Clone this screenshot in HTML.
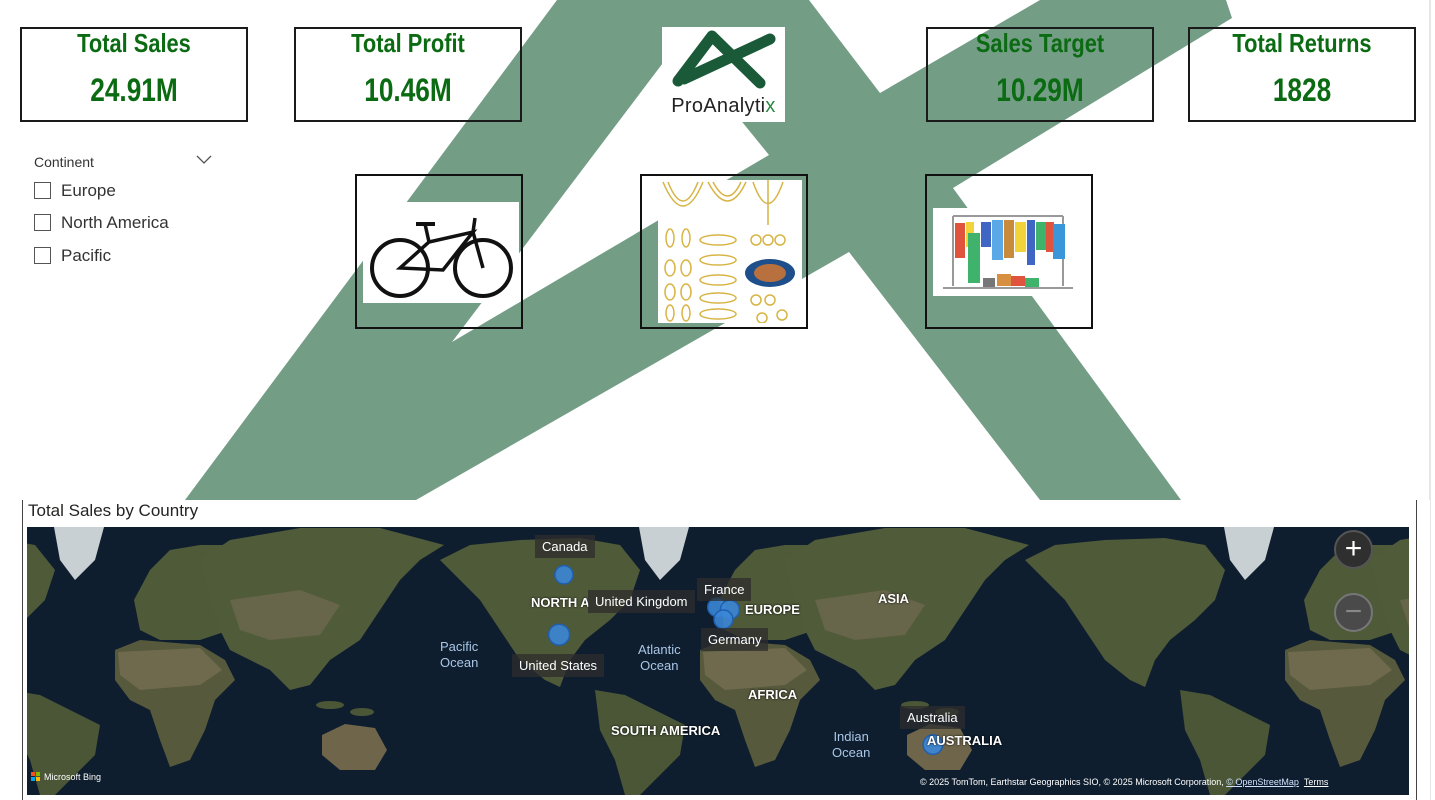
<!DOCTYPE html>
<html><head><meta charset="utf-8">
<style>
*{box-sizing:border-box;margin:0;padding:0}
body{width:1435px;height:800px;background:#fff;position:relative;overflow:hidden;font-family:"Liberation Sans",sans-serif}
.abs{position:absolute}
.kpi{position:absolute;top:27px;width:228px;height:95px;border:2px solid #1a1a1a;text-align:center;color:#0b6b12;font-weight:bold}
.kpi .t{position:absolute;left:0;right:0;top:0;font-size:26px;line-height:28px;transform:scaleX(0.84)}
.kpi .v{position:absolute;left:0;right:0;top:44px;font-size:32px;line-height:34px;transform:scaleX(0.82)}
.pbox{position:absolute;top:174px;width:168px;height:155px;border:2px solid #111}
.cb{position:absolute;left:34px;width:17px;height:17px;border:1px solid #555;background:#fff}
.cl{position:absolute;left:61px;font-size:17px;color:#333}
.tip{position:absolute;background:rgba(45,45,45,0.75);color:#fff;font-size:13px;line-height:23px;padding:0 7px;white-space:nowrap}
.cont{position:absolute;color:#fff;font-weight:bold;font-size:13px;white-space:nowrap;text-shadow:0 0 2px #000}
.ocean{position:absolute;color:#a9c6e6;font-size:13px;line-height:16px;text-align:center}
</style></head><body>

<svg class="abs" style="left:0;top:0" width="1435" height="500">
<polygon points="557,0 809,0 880,93 1040,0 1226,0 1232,18 953,188 1181,500 185,500" fill="#749d86"/>
<polygon points="678,43 452,342 769,155" fill="#fff"/>
<polygon points="849,252 416,500 1040,500" fill="#fff"/>
</svg>
<div class="abs" style="left:1429px;top:0;width:2px;height:800px;background:#e6e6e6"></div>

<div class="kpi" style="left:20px"><div class="t">Total Sales</div><div class="v">24.91M</div></div>
<div class="kpi" style="left:294px"><div class="t">Total Profit</div><div class="v">10.46M</div></div>
<div class="kpi" style="left:926px"><div class="t">Sales Target</div><div class="v">10.29M</div></div>
<div class="kpi" style="left:1188px"><div class="t">Total Returns</div><div class="v">1828</div></div>

<div class="abs" style="left:662px;top:27px;width:123px;height:95px;background:#fff">
<svg width="123" height="68" style="position:absolute;left:0;top:0">
<g stroke="#1a5a38" stroke-width="11" fill="none" stroke-linecap="round" stroke-linejoin="round">
<path d="M16,54 L50,9 L98,56"/>
<path d="M108,12 L22,52"/>
</g>
</svg>
<div style="position:absolute;left:0;right:0;top:68px;text-align:center;font-size:20px;color:#222;letter-spacing:0.3px">ProAnalyti<span style="color:#2a8a40">x</span></div>
</div>

<div class="abs" style="left:34px;top:154px;font-size:14px;color:#333">Continent</div>
<svg class="abs" style="left:196px;top:155px" width="16" height="10"><path d="M1,1 L8,8 L15,1" stroke="#555" fill="none" stroke-width="1.3"/></svg>
<div class="cb" style="top:182px"></div><div class="cl" style="top:181px">Europe</div>
<div class="cb" style="top:214px"></div><div class="cl" style="top:213px">North America</div>
<div class="cb" style="top:247px"></div><div class="cl" style="top:246px">Pacific</div>

<div class="pbox" style="left:355px">
<svg class="abs" style="left:6px;top:26px" width="156" height="101"><rect width="156" height="101" fill="#fff"/>
<g stroke="#111" fill="none"><circle cx="37" cy="66" r="28" stroke-width="4"/><circle cx="120" cy="66" r="28" stroke-width="4"/>
<path d="M37,66 L66,40 L110,30 L80,68 Z M110,30 L120,66 M66,40 L62,22 M110,30 L112,16" stroke-width="3.5"/>
<path d="M53,22 L72,22" stroke-width="4"/></g></svg>
</div>
<div class="pbox" style="left:640px">
<svg class="abs" style="left:16px;top:4px" width="144" height="143"><rect width="144" height="143" fill="#fff"/>
<g stroke="#d7b443" fill="none" stroke-width="1.5">
<path d="M5,2 Q25,50 45,2 M10,2 Q25,40 40,2 M50,2 Q70,40 88,2 M55,2 Q70,30 83,2 M95,2 Q110,45 125,2 M110,0 L110,45"/>
<ellipse cx="12" cy="58" rx="4" ry="9"/><ellipse cx="28" cy="58" rx="4" ry="9"/><ellipse cx="12" cy="88" rx="5" ry="8"/><ellipse cx="28" cy="88" rx="5" ry="8"/><ellipse cx="12" cy="112" rx="5" ry="8"/><ellipse cx="28" cy="112" rx="5" ry="8"/><ellipse cx="12" cy="133" rx="4" ry="8"/><ellipse cx="28" cy="133" rx="4" ry="8"/>
<ellipse cx="60" cy="60" rx="18" ry="5"/><ellipse cx="60" cy="80" rx="18" ry="5"/><ellipse cx="60" cy="100" rx="18" ry="5"/><ellipse cx="60" cy="118" rx="18" ry="5"/><ellipse cx="60" cy="134" rx="18" ry="5"/>
<circle cx="98" cy="60" r="5"/><circle cx="110" cy="60" r="5"/><circle cx="122" cy="60" r="5"/><circle cx="98" cy="120" r="5"/><circle cx="112" cy="120" r="5"/><circle cx="124" cy="135" r="5"/><circle cx="104" cy="138" r="5"/></g>
<ellipse cx="112" cy="93" rx="25" ry="14" fill="#1f4f8a"/><ellipse cx="112" cy="93" rx="16" ry="9" fill="#b8703e"/></svg>
</div>
<div class="pbox" style="left:925px">
<svg class="abs" style="left:6px;top:32px" width="150" height="88"><rect width="150" height="88" fill="#fff"/>
<g stroke="#999" stroke-width="2" fill="none"><path d="M20,8 L130,8 M20,8 L20,78 M130,8 L130,78 M10,80 L140,80"/></g>
<rect x="22" y="15" width="10" height="35" fill="#e0533d"/><rect x="33" y="14" width="8" height="25" fill="#f2d43a"/><rect x="35" y="25" width="12" height="50" fill="#3fb36b"/><rect x="48" y="14" width="10" height="25" fill="#3f66c4"/><rect x="59" y="12" width="11" height="40" fill="#5aa9e6"/><rect x="71" y="12" width="10" height="38" fill="#c88a3b"/><rect x="82" y="14" width="11" height="30" fill="#f2d43a"/><rect x="94" y="12" width="8" height="45" fill="#3f66c4"/><rect x="103" y="14" width="10" height="28" fill="#3fb36b"/><rect x="113" y="14" width="8" height="30" fill="#e0533d"/><rect x="120" y="16" width="12" height="35" fill="#3a96d8"/>
<rect x="50" y="70" width="12" height="9" fill="#777"/><rect x="64" y="66" width="14" height="12" fill="#d6903f"/><rect x="78" y="68" width="14" height="10" fill="#e0533d"/><rect x="92" y="70" width="14" height="9" fill="#3fb36b"/></svg>
</div>

<!-- Map panel -->
<div class="abs" style="left:0;top:500px;width:1430px;height:300px;background:#fff"></div>
<div class="abs" style="left:22px;top:500px;width:1px;height:300px;background:#444"></div>
<div class="abs" style="left:1416px;top:500px;width:1px;height:300px;background:#444"></div>
<div class="abs" style="left:28px;top:501px;font-size:17px;color:#252423">Total Sales by Country</div>

<svg id="map" class="abs" style="left:27px;top:527px" width="1382" height="268">
<rect width="1382" height="268" fill="#0f1e2e"/>
<g transform="translate(-27,-527)">
<g id="copy">
<path d="M134,600 L150,570 L170,550 L200,545 L240,545 L245,600 L230,630 L200,640 L160,640 L140,630 Z" fill="#4f5a39"/>
<path d="M115,650 L140,640 L200,645 L225,660 L235,680 L215,700 L205,730 L190,760 L170,767 L160,740 L150,710 L130,700 L115,680 Z" fill="#56593c"/>
<path d="M118,652 L200,648 L222,670 L200,685 L140,690 L120,675 Z" fill="#6f6a4e"/>
<path d="M200,560 L230,540 L300,528 L380,528 L444,545 L420,560 L400,580 L380,610 L360,640 L330,660 L310,685 L290,690 L270,670 L250,660 L230,650 L220,630 L210,600 Z" fill="#505b3a"/>
<path d="M230,600 L300,590 L340,605 L320,635 L270,640 L240,630 Z" fill="#67654a"/>
<ellipse cx="330" cy="705" rx="14" ry="4" fill="#4a5636"/><ellipse cx="362" cy="712" rx="12" ry="4" fill="#4a5636"/>
<path d="M322,735 L345,724 L375,728 L387,750 L375,770 L340,770 L322,755 Z" fill="#6e654b"/>
<path d="M440,560 L470,545 L520,540 L580,538 L620,545 L640,570 L630,600 L610,620 L585,640 L570,660 L560,687 L545,680 L520,660 L500,630 L480,600 L460,580 Z" fill="#4f5a39"/>
<path d="M54,527 L104,527 L95,560 L75,580 L60,560 Z" fill="#c9d0d4"/>
<path d="M10,690 L40,695 L70,710 L100,725 L95,755 L70,780 L55,795 L40,795 L30,760 L15,730 Z" fill="#4a5636"/>
</g>
<use href="#copy" x="-585"/>
<use href="#copy" x="585"/>
<use href="#copy" x="1170"/>
</g>
<g id="bubbles"></g>
</svg>

<div class="tip" style="left:535px;top:535px">Canada</div>
<div class="cont" style="left:531px;top:595px">NORTH A</div>
<div class="tip" style="left:588px;top:590px">United Kingdom</div>
<div class="tip" style="left:697px;top:578px">France</div>
<div class="cont" style="left:745px;top:602px">EUROPE</div>
<div class="cont" style="left:878px;top:591px">ASIA</div>
<div class="tip" style="left:701px;top:628px">Germany</div>
<div class="tip" style="left:512px;top:654px">United States</div>
<div class="ocean" style="left:440px;top:639px">Pacific<br>Ocean</div>
<div class="ocean" style="left:638px;top:642px">Atlantic<br>Ocean</div>
<div class="cont" style="left:748px;top:687px">AFRICA</div>
<div class="cont" style="left:611px;top:723px">SOUTH AMERICA</div>
<div class="tip" style="left:900px;top:706px">Australia</div>
<div class="ocean" style="left:832px;top:729px">Indian<br>Ocean</div>
<div class="cont" style="left:927px;top:733px">AUSTRALIA</div>

<div class="abs" style="left:1334px;top:530px;width:39px;height:39px;border-radius:50%;background:#2f2f2f;border:2px solid #555;color:#fff;font-size:30px;line-height:33px;text-align:center">+</div>
<div class="abs" style="left:1334px;top:593px;width:39px;height:39px;border-radius:50%;background:#4a4a4a;border:2px solid #777;color:#888;font-size:30px;line-height:33px;text-align:center">&#8722;</div>

<div class="abs" style="left:31px;top:772px;width:10px;height:10px">
<div class="abs" style="left:0;top:0;width:4px;height:4px;background:#f25022"></div><div class="abs" style="left:5px;top:0;width:4px;height:4px;background:#7fba00"></div><div class="abs" style="left:0;top:5px;width:4px;height:4px;background:#00a4ef"></div><div class="abs" style="left:5px;top:5px;width:4px;height:4px;background:#ffb900"></div></div>
<div class="abs" style="left:44px;top:772px;font-size:9px;color:#fff">Microsoft Bing</div>
<div class="abs" style="left:920px;top:777px;font-size:9px;color:#fff;white-space:nowrap">© 2025 TomTom, Earthstar Geographics SIO, © 2025 Microsoft Corporation, <u style="color:#cfe0ff">© OpenStreetMap</u> &nbsp;<u>Terms</u></div>

<script>
const countries = ["Canada", "United States", "France", "United Kingdom", "Germany", "Australia"];
const lons = [-95, -98, 0, 8, 4, 134];
const lats = [62, 39, 51, 50, 46, -25];
const sales = [1.9, 9.4, 2.6, 3.4, 2.9, 4.7];

const NS = "http://www.w3.org/2000/svg";
const pxPerDeg = 580 / 360;
function xScale(lon) { return 717 + lon * pxPerDeg - 27; }
function yScale(lat) {
  const r = lat * Math.PI / 180;
  return 703 - (580 / (2 * Math.PI)) * Math.log(Math.tan(Math.PI / 4 + r / 2)) - 527;
}
function rScale(v) { return 8 + Math.sqrt(v) * 0.8; }

const bg = document.getElementById("bubbles");
countries.forEach(function (name, i) {
  const c = document.createElementNS(NS, "circle");
  c.setAttribute("cx", xScale(lons[i]));
  c.setAttribute("cy", yScale(lats[i]));
  c.setAttribute("r", rScale(sales[i]));
  c.setAttribute("fill", "#3b86d6");
  c.setAttribute("fill-opacity", "0.9");
  c.setAttribute("stroke", "#1f5fb0");
  c.setAttribute("stroke-width", "1.5");
  
  
  bg.appendChild(c);
});
</script>
</body></html>
